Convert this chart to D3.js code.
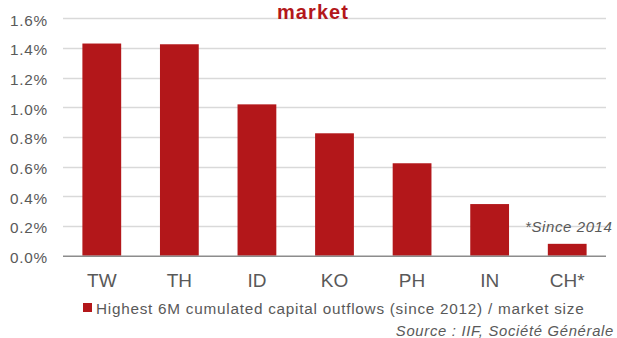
<!DOCTYPE html>
<html>
<head>
<meta charset="utf-8">
<script src="https://cdn.jsdelivr.net/npm/d3@7"></script>
<style>
  html, body { margin: 0; padding: 0; background: #fff; }
  svg { display: block; font-family: "Liberation Sans", Arial, Helvetica, sans-serif; }
</style>
</head>
<body>
<svg id="chart" width="617" height="338"></svg>
<script>
// Highest 6M cumulated capital outflows (since 2012) / market size, in %
const categories = ["TW", "TH", "ID", "KO", "PH", "IN", "CH*"];
const outflowShare = [1.43, 1.425, 1.02, 0.825, 0.623, 0.348, 0.08];
const yTicks = [0, 0.2, 0.4, 0.6, 0.8, 1.0, 1.2, 1.4, 1.6];
const seriesName = "Highest 6M cumulated capital outflows (since 2012) / market size";
const titleText = "market";
const noteText = "*Since 2014";
const sourceText = "Source : IIF, Société Générale";

const barColor = "#b3171a";
const textColor = "#595959";

const svg = d3.select("#chart");
const margin = { left: 63, right: 11, top: 18.3, bottom: 82.3 };
const W = 617, H = 338;

const x = d3.scaleBand()
  .domain(categories)
  .range([margin.left, W - margin.right])
  .paddingInner(0.5)
  .paddingOuter(0.25);

const y = d3.scaleLinear()
  .domain([0, 1.6])
  .range([H - margin.bottom, margin.top]);

// horizontal gridlines
svg.append("g")
  .selectAll("line")
  .data(yTicks.filter(d => d > 0))
  .join("line")
  .attr("x1", margin.left)
  .attr("x2", W - margin.right)
  .attr("y1", d => Math.round(y(d)) + 0.5)
  .attr("y2", d => Math.round(y(d)) + 0.5)
  .attr("stroke", "#d9d9d9")
  .attr("stroke-width", 1.3);

// y axis labels
const yAxis = d3.axisLeft(y)
  .tickValues(yTicks)
  .tickFormat(d => d.toFixed(1) + "%")
  .tickSize(0)
  .tickPadding(15);
const gy = svg.append("g")
  .attr("transform", `translate(${margin.left},0)`)
  .call(yAxis);
gy.select(".domain").remove();
gy.selectAll("text")
  .attr("fill", textColor)
  .attr("dy", "0.45em")
  .style("font-size", "15.3px")
  .style("letter-spacing", "0.8px")
  .style("font-family", "'Liberation Sans', Arial, sans-serif");

// bars
svg.append("g")
  .selectAll("rect")
  .data(categories.map((c, i) => ({ c, v: outflowShare[i] })))
  .join("rect")
  .attr("x", d => x(d.c))
  .attr("width", x.bandwidth())
  .attr("y", d => y(d.v))
  .attr("height", d => y(0) - y(d.v))
  .attr("fill", barColor);

// x axis baseline and labels
const xAxis = d3.axisBottom(x).tickSize(0).tickPadding(18);
const gx = svg.append("g")
  .attr("transform", `translate(0,${y(0)})`)
  .call(xAxis);
gx.select(".domain")
  .attr("d", `M${margin.left},0.5H${W - margin.right}`)
  .attr("stroke", "#8c8c8c")
  .attr("stroke-width", 1.5);
gx.selectAll("text")
  .attr("fill", textColor)
  .style("font-size", "19px")
  .style("font-family", "'Liberation Sans', Arial, sans-serif");

// title (last line visible)
svg.append("text")
  .attr("x", 313)
  .attr("y", 19)
  .attr("text-anchor", "middle")
  .attr("fill", barColor)
  .style("font-weight", "bold")
  .style("font-size", "20px")
  .style("letter-spacing", "1.1px")
  .text(titleText);

// note for CH
svg.append("text")
  .attr("x", 525)
  .attr("y", 232)
  .attr("fill", textColor)
  .style("font-style", "italic")
  .style("font-size", "15px")
  .style("letter-spacing", "0.6px")
  .text(noteText);

// legend
const lg = svg.append("g").attr("transform", "translate(83,303)");
lg.append("rect").attr("width", 9).attr("height", 9).attr("fill", barColor);
lg.append("text")
  .attr("x", 13)
  .attr("y", 11)
  .attr("fill", textColor)
  .style("font-size", "15.3px")
  .style("letter-spacing", "0.75px")
  .text(seriesName);

// source
svg.append("text")
  .attr("x", 614)
  .attr("y", 336)
  .attr("text-anchor", "end")
  .attr("fill", textColor)
  .style("font-style", "italic")
  .style("font-size", "14.8px")
  .style("letter-spacing", "0.7px")
  .text(sourceText);
</script>
</body>
</html>
